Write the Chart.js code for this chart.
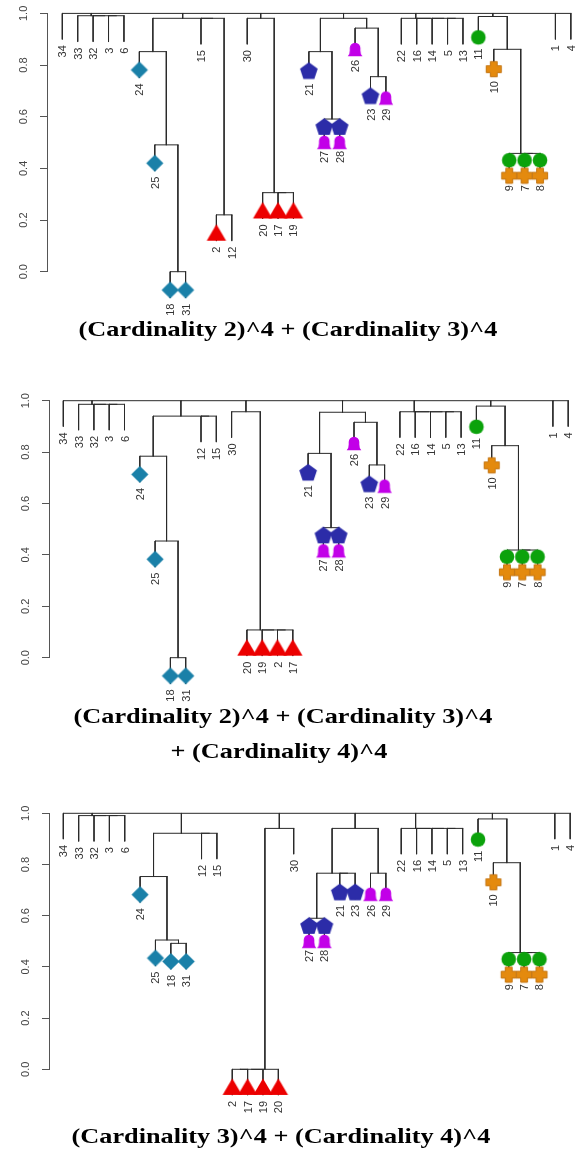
<!DOCTYPE html>
<html><head><meta charset="utf-8">
<script src="https://cdn.jsdelivr.net/npm/chart.js@4.4.1/dist/chart.umd.min.js"></script>
<style>
html,body{margin:0;padding:0;background:#fff;}
#wrap{position:relative;width:584px;height:1162px;overflow:hidden;background:#fff;}
canvas{position:absolute;left:0;}
.title{position:absolute;white-space:nowrap;font-family:"Liberation Serif","Times New Roman",serif;font-weight:bold;font-size:21px;line-height:21px;color:#000;transform:translateX(-50%) scaleX(1.25);}
</style></head><body>
<div id="wrap">
<canvas id="c1" width="584" height="322" style="top:0px"></canvas>
<canvas id="c2" width="584" height="325" style="top:385px"></canvas>
<canvas id="c3" width="584" height="325" style="top:800px"></canvas>
<div class="title" style="left:288px;top:319px">(Cardinality 2)^4 + (Cardinality 3)^4</div>
<div class="title" style="left:282.5px;top:705.5px">(Cardinality 2)^4 + (Cardinality 3)^4</div>
<div class="title" style="left:279px;top:740.5px">+ (Cardinality 4)^4</div>
<div class="title" style="left:280.5px;top:1126px">(Cardinality 3)^4 + (Cardinality 4)^4</div>
</div>
<script>
// ---------------- DATA ----------------
const HANG = 0.1;
const yTickValues = [0, 0.2, 0.4, 0.6, 0.8, 1.0];
const yTickLabels = ['0.0', '0.2', '0.4', '0.6', '0.8', '1.0'];

// Panel 1: (Cardinality 2)^4 + (Cardinality 3)^4
const order1 = [34,33,32,3,6,24,25,18,31,15,2,12,30,20,17,19,21,27,28,26,23,29,22,16,14,5,13,11,10,9,7,8,1,4];
const tree1 = [1.0, 34,
  [0.991, 33, [0.991, 32, [0.991, 3, 6]]],
  [0.981, [0.852, 24, [0.491, 25, [0.0, 18, 31]]], [0.981, 15, [0.22, 2, 12]]],
  [0.981, 30, [0.306, 20, [0.306, 17, 19]]],
  [0.981, [0.852, 21, [0.591, 27, 28]], [0.943, 26, [0.755, 23, 29]]],
  [0.981, 22, [0.981, 16, [0.981, 14, [0.981, 5, 13]]]],
  [0.988, 11, [0.861, 10, [0.458, 9, [0.458, 7, 8]]]],
  1, 4];

// Panel 2: (Cardinality 2)^4 + (Cardinality 3)^4 + (Cardinality 4)^4
const order2 = [34,33,32,3,6,24,25,18,31,12,15,30,20,19,2,17,21,27,28,26,23,29,22,16,14,5,13,11,10,9,7,8,1,4];
const tree2 = [1.0, 34,
  [0.986, 33, [0.986, 32, [0.986, 3, 6]]],
  [0.940, [0.784, 24, [0.454, 25, [0.0, 18, 31]]], [0.940, 12, 15]],
  [0.957, 30, [0.108, 20, [0.108, 19, [0.108, 2, 17]]]],
  [0.955, [0.795, 21, [0.506, 27, 28]], [0.916, 26, [0.750, 23, 29]]],
  [0.957, 22, [0.957, 16, [0.957, 14, [0.957, 5, 13]]]],
  [0.979, 11, [0.825, 10, [0.419, 9, [0.419, 7, 8]]]],
  1, 4];

// Panel 3: (Cardinality 3)^4 + (Cardinality 4)^4
const order3 = [34,33,32,3,6,24,25,18,31,12,15,2,17,19,20,30,27,28,21,23,26,29,22,16,14,5,13,11,10,9,7,8,1,4];
const tree3 = [1.0, 34,
  [0.991, 33, [0.991, 32, [0.991, 3, 6]]],
  [0.922, [0.753, 24, [0.505, 25, [0.492, 18, 31]]], [0.922, 12, 15]],
  [0.941, [0.0, [0.0, [0.0, 2, 17], 19], 20], 30],
  [0.941, [0.766, [0.590, 27, 28], [0.766, 21, 23]], [0.766, 26, 29]],
  [0.941, 22, [0.941, 16, [0.941, 14, [0.941, 5, 13]]]],
  [0.978, 11, [0.807, 10, [0.456, 9, [0.456, 7, 8]]]],
  1, 4];

// Leaf marker groups
const diamondLeaves  = [24, 25, 18, 31];
const triangleLeaves = [2, 17, 19, 20];
const pentagonLeaves = [21, 23, 27, 28];
const archLeaves     = [26, 29, 27, 28];
const circleLeaves   = [11, 9, 7, 8];
const crossLeaves    = [10, 9, 7, 8];

// ---------------- STYLES ----------------
const SHAPES = {
  diamond: { color:'#1a80a8', single:7.5, draw(g,x,y){ g.beginPath(); g.moveTo(x,y-8.6); g.lineTo(x+8.6,y); g.lineTo(x,y+8.6); g.lineTo(x-8.6,y); g.closePath(); g.fill(); } },
  triangle: { color:'#ec0000', single:5.5, draw(g,x,y){ g.beginPath(); g.moveTo(x,y-11); g.lineTo(x+9.7,y+5.5); g.lineTo(x-9.7,y+5.5); g.closePath(); g.fill(); } },
  pentagon: { color:'#2c2ca8', single:6, double:17.5, draw(g,x,y){ const r=9.3; g.beginPath(); for(let k=0;k<5;k++){ const a=-Math.PI/2+k*2*Math.PI/5; const px=x+r*Math.cos(a), py=y+r*Math.sin(a); k?g.lineTo(px,py):g.moveTo(px,py);} g.closePath(); g.fill(); } },
  arch: { color:'#c200e8', single:4.5, double:2.5, draw(g,x,y){ const t=y-6.7, b=y+6.7, r=5.3; g.beginPath(); g.moveTo(x-7.3,b); g.quadraticCurveTo(x-r,b-1.5,x-r,y+1); g.lineTo(x-r,t+r); g.arc(x,t+r,r,Math.PI,0); g.lineTo(x+r,y+1); g.quadraticCurveTo(x+r,b-1.5,x+7.3,b); g.closePath(); g.fill(); } },
  circle: { color:'#0ba20b', single:5, double:19, draw(g,x,y){ g.beginPath(); g.arc(x,y,7.3,0,Math.PI*2); g.fill(); } },
  cross: { color:'#e48a0e', stroke:'#c47614', single:6, double:3.5, draw(g,x,y){ const L=7.6, T=3.4; g.beginPath(); g.moveTo(x-T,y-L); g.lineTo(x+T,y-L); g.lineTo(x+T,y-T); g.lineTo(x+L,y-T); g.lineTo(x+L,y+T); g.lineTo(x+T,y+T); g.lineTo(x+T,y+L); g.lineTo(x-T,y+L); g.lineTo(x-T,y+T); g.lineTo(x-L,y+T); g.lineTo(x-L,y-T); g.lineTo(x-T,y-T); g.closePath(); g.fill(); g.lineWidth=1; g.strokeStyle=this.stroke; g.stroke(); } }
};

const markerGroups = [
  { leaves: diamondLeaves,  shape: 'diamond',  partner: null, order: 3 },
  { leaves: triangleLeaves, shape: 'triangle', partner: null, order: 3 },
  { leaves: pentagonLeaves, shape: 'pentagon', partner: archLeaves, order: 5 },
  { leaves: archLeaves,     shape: 'arch',     partner: pentagonLeaves, order: 1 },
  { leaves: circleLeaves,   shape: 'circle',   partner: crossLeaves, order: 5 },
  { leaves: crossLeaves,    shape: 'cross',    partner: circleLeaves, order: 1 }
];

const markerCache = {};
function markerCanvas(name, dy) {
  const key = name + '_' + dy;
  if (markerCache[key]) return markerCache[key];
  const sh = SHAPES[name];
  const h = 2 * Math.ceil(Math.abs(dy) + 13);
  const c = document.createElement('canvas');
  c.width = 30; c.height = h;
  const g = c.getContext('2d');
  g.fillStyle = sh.color;
  sh.draw.call(sh, g, 15, h / 2 - dy);
  markerCache[key] = c;
  return c;
}

function buildTree(tree, order) {
  const pos = {};
  order.forEach((l, i) => { pos[l] = i + 1; });
  const segs = [];
  const leafEnd = {};
  function walk(node, parentH) {
    if (typeof node === 'number') {
      const end = parentH - HANG;
      leafEnd[node] = end;
      return { x: pos[node], y: end };
    }
    const h = node[0];
    const kids = node.slice(1).map(k => walk(k, h));
    const xl = kids[0].x, xr = kids[kids.length - 1].x;
    segs.push({ x: xl, y: h }, { x: xr, y: h }, { x: null, y: null });
    kids.forEach(k => { if (k.y !== h) segs.push({ x: k.x, y: h }, { x: k.x, y: k.y }, { x: null, y: null }); });
    return { x: (xl + xr) / 2, y: h };
  }
  walk(tree, null);
  return { segs, leafEnd, pos };
}

function labelPlugin(order, leafEnd) {
  return {
    id: 'dendroLabels',
    afterDatasetsDraw(chart) {
      const ctx = chart.ctx, xs = chart.scales.x, ys = chart.scales.y;
      ctx.save();
      ctx.font = '11px "Liberation Sans", Arial, sans-serif';
      ctx.fillStyle = '#333';
      ctx.textAlign = 'right';
      ctx.textBaseline = 'alphabetic';
      order.forEach((l, i) => {
        const x = xs.getPixelForValue(i + 1);
        const y = ys.getPixelForValue(leafEnd[l]) + 6;
        ctx.save();
        ctx.translate(x + 4, y);
        ctx.rotate(-Math.PI / 2);
        ctx.fillText(String(l), 0, 0);
        ctx.restore();
      });
      ctx.fillStyle = '#444';
      ctx.textAlign = 'center';
      yTickValues.forEach((v, k) => {
        const y = ys.getPixelForValue(v);
        ctx.save();
        ctx.translate(ys.right - 20, y);
        ctx.rotate(-Math.PI / 2);
        ctx.fillText(yTickLabels[k], 0, 0);
        ctx.restore();
      });
      ctx.restore();
    }
  };
}

function makePanel(id, order, tree, P) {
  const { segs, leafEnd, pos } = buildTree(tree, order);
  const datasets = [{
    data: segs, showLine: true, borderColor: '#2a2a2a', borderWidth: 1,
    pointRadius: 0, pointHoverRadius: 0, borderCapStyle: 'square',
    spanGaps: false, clip: false, order: 10, tension: 0
  }];
  markerGroups.forEach(gp => {
    const pts = [], styles = [];
    const sh = SHAPES[gp.shape];
    gp.leaves.forEach(l => {
      if (!(l in pos)) return;
      const isDouble = gp.partner && gp.partner.includes(l);
      pts.push({ x: pos[l], y: leafEnd[l] });
      styles.push(markerCanvas(gp.shape, isDouble ? sh.double : sh.single));
    });
    datasets.push({
      data: pts, pointStyle: styles, pointRadius: 40, pointHoverRadius: 40,
      pointBorderWidth: 0, pointHitRadius: 0, showLine: false, clip: false, order: gp.order
    });
  });
  const xmin = 1 - (P.x1 - P.axisX) / P.sp;
  const padRight = 584 - (P.x1 + 33.5 * P.sp);
  const H = document.getElementById(id).height;
  new Chart(document.getElementById(id), {
    type: 'scatter',
    data: { datasets },
    options: {
      responsive: false, animation: false, devicePixelRatio: 1, events: [],
      layout: { autoPadding: false, padding: { left: 0, right: padRight, top: P.top, bottom: H - P.bottom } },
      plugins: { legend: { display: false }, tooltip: { enabled: false }, title: { display: false } },
      scales: {
        x: { type: 'linear', display: false, min: xmin, max: 34.5 },
        y: {
          type: 'linear', position: 'left', min: 0, max: 1,
          afterBuildTicks: (s) => { s.ticks = yTickValues.map(v => ({ value: v })); },
          afterFit: (s) => { s.width = P.axisX; },
          ticks: { display: false },
          grid: { drawOnChartArea: false, drawTicks: true, tickLength: 7, color: '#555', lineWidth: 1 },
          border: { display: true, color: '#555', width: 1 }
        }
      }
    },
    plugins: [labelPlugin(order, leafEnd)]
  });
}

makePanel('c1', order1, tree1, { axisX: 47, x1: 62.3, sp: 15.41, top: 13.4, bottom: 271.7 });
makePanel('c2', order2, tree2, { axisX: 49, x1: 63.3, sp: 15.30, top: 15.7, bottom: 272.7 });
makePanel('c3', order3, tree3, { axisX: 49, x1: 63.3, sp: 15.36, top: 13.3, bottom: 269.3 });
</script>
</body></html>
